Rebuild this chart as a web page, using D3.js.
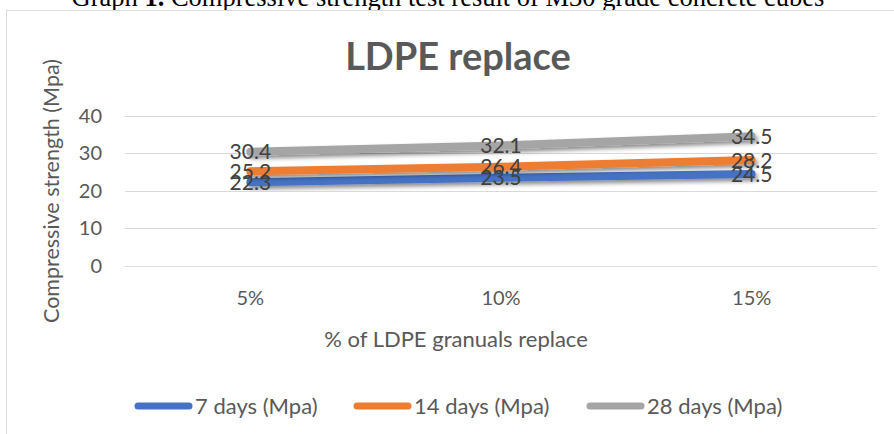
<!DOCTYPE html>
<html><head><meta charset="utf-8">
<script src="https://cdn.jsdelivr.net/npm/d3@7"></script>
<style>body{margin:0;background:#fff;overflow:hidden}svg{display:block}</style>
</head><body>
<script>
const categories = ["5%", "10%", "15%"];
const days7 = [22.3, 23.5, 24.5];
const days14 = [25.2, 26.4, 28.2];
const days28 = [30.4, 32.1, 34.5];
const seriesNames = ["7 days (Mpa)", "14 days (Mpa)", "28 days (Mpa)"];
const yTicks = [0, 10, 20, 30, 40];
const colors = ["#4472C4", "#ED7D31", "#A5A5A5"];

const W = 894, H = 434;
const svg = d3.select("body").append("svg").attr("width", W).attr("height", H);
const defs = svg.append("defs");
const f = defs.append("filter").attr("id", "sh").attr("x", "-10%").attr("y", "-100%").attr("width", "120%").attr("height", "300%");
f.append("feDropShadow").attr("dx", 2).attr("dy", 3).attr("stdDeviation", 2.2).attr("flood-color", "#000").attr("flood-opacity", 0.45);

// caption
svg.append("text").attr("x", 448).attr("y", 6).attr("text-anchor", "middle")
  .attr("font-family", "Liberation Serif").attr("font-size", 26.5).attr("fill", "#000")
  .call(t => { t.append("tspan").text("Graph "); t.append("tspan").attr("font-weight", "bold").text("1."); t.append("tspan").text(" Compressive strength test result of M30 grade concrete cubes"); });

// chart border
svg.append("rect").attr("x", 6.5).attr("y", 10.5).attr("width", 900).attr("height", 440)
  .attr("fill", "#fff").attr("stroke", "#D9D9D9");

const x = d3.scaleBand().domain(categories).range([125, 877]);
const y = d3.scaleLinear().domain([0, 40]).range([266, 115.7]);
const font = "Lato, 'Open Sans', sans-serif";

// grid
svg.append("g").selectAll("line").data(yTicks).join("line")
  .attr("x1", 125).attr("x2", 877).attr("y1", d => Math.round(y(d)) + 0.5).attr("y2", d => Math.round(y(d)) + 0.5)
  .attr("stroke", "#D9D9D9").attr("stroke-width", 1);

// y axis labels
const ya = svg.append("g").attr("transform", "translate(110,0)")
  .call(d3.axisLeft(y).tickValues(yTicks).tickSize(0).tickPadding(8));
ya.select(".domain").remove();
ya.selectAll("text").attr("font-family", font).attr("font-size", 20).attr("fill", "#595959");

// x axis labels
const xa = svg.append("g").attr("transform", "translate(0,288)")
  .call(d3.axisBottom(x).tickSize(0).tickPadding(3));
xa.select(".domain").remove();
xa.selectAll("text").attr("font-family", font).attr("font-size", 20).attr("fill", "#595959");

// titles
svg.append("text").attr("x", 458).attr("y", 70).attr("text-anchor", "middle")
  .attr("font-family", font).attr("font-weight", "bold").attr("font-size", 38).attr("fill", "#595959").text("LDPE replace");
svg.append("text").attr("transform", "translate(59,191) rotate(-90)").attr("text-anchor", "middle")
  .attr("font-family", font).attr("font-size", 21.5).attr("fill", "#595959").text("Compressive strength (Mpa)");
svg.append("text").attr("x", 456).attr("y", 347).attr("text-anchor", "middle")
  .attr("font-family", font).attr("font-size", 22).attr("fill", "#595959").text("% of LDPE granuals replace");

const series = [days7, days14, days28];
const line = d3.line().x((d, i) => x(categories[i]) + x.bandwidth() / 2).y(d => y(d));
const lg = svg.append("g");
series.forEach((s, k) => {
  lg.append("path").datum(s).attr("d", line).attr("fill", "none").attr("stroke", colors[k])
    .attr("stroke-width", 8).attr("stroke-linecap", "round").attr("stroke-linejoin", "round").attr("filter", "url(#sh)");
});
series.forEach((s, k) => {
  svg.append("g").selectAll("text").data(s).join("text")
    .attr("x", (d, i) => x(categories[i]) + x.bandwidth() / 2).attr("y", d => y(d)).attr("dy", "0.36em")
    .attr("text-anchor", "middle").attr("font-family", font).attr("font-size", 21).attr("fill", "#404040")
    .text(d => d.toFixed(1));
});

// legend
const legX = [135, 354, 587];
const leg = svg.append("g");
seriesNames.forEach((n, k) => {
  leg.append("line").attr("x1", legX[k] + 3).attr("x2", legX[k] + 54).attr("y1", 406).attr("y2", 406)
    .attr("stroke", colors[k]).attr("stroke-width", 7).attr("stroke-linecap", "round");
  leg.append("text").attr("x", legX[k] + 60).attr("y", 406).attr("dy", "0.36em")
    .attr("font-family", font).attr("font-size", 22).attr("fill", "#595959").text(n);
});
</script>
</body></html>
